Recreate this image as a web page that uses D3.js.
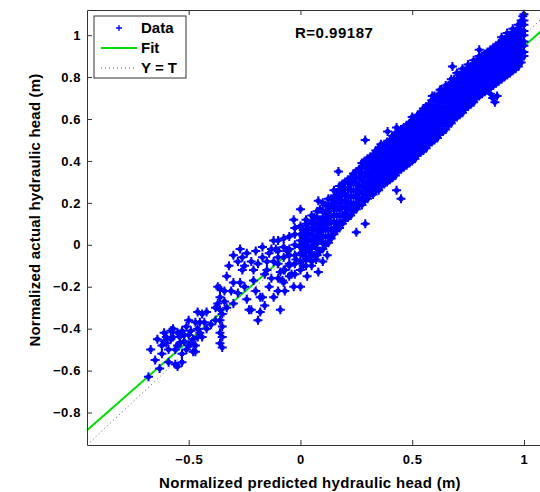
<!DOCTYPE html>
<html>
<head>
<meta charset="utf-8">
<script src="https://cdn.jsdelivr.net/npm/d3@7"></script>
<style>
  body { margin: 0; background: #fff; }
  svg { display: block; font-family: "Liberation Sans", Arial, sans-serif; font-weight: bold; }
</style>
</head>
<body>
<div id="chart"></div>
<script>
// Axis ticks
const xTicks = [-0.5, 0, 0.5, 1];
const yTicks = [-0.8, -0.6, -0.4, -0.2, 0, 0.2, 0.4, 0.6, 0.8, 1];

// Regression summary
const rValue = "0.99187";
const fitSlope = 0.937;
const fitIntercept = 0.01;
const axisMin = -0.955;
const axisMax = 1.12;

// Dense band of points: column x positions and the y values in each column
const bandX = [
  -0.1, -0.075, -0.05, -0.025, 0, 0.0125, 0.025, 0.0375, 0.05, 0.0625, 0.075, 0.0875,
  0.1, 0.1125, 0.125, 0.1375, 0.15, 0.1625, 0.175, 0.1875, 0.2, 0.2125, 0.225, 0.2375,
  0.25, 0.2625, 0.275, 0.2875,
  0.3, 0.3125, 0.325, 0.3375, 0.35, 0.3625, 0.375, 0.3875, 0.4, 0.4125, 0.425, 0.4375,
  0.45, 0.4625, 0.475, 0.4875, 0.5, 0.5125, 0.525, 0.5375, 0.55, 0.5625, 0.575, 0.5875,
  0.6, 0.6125, 0.625, 0.6375, 0.65, 0.6625, 0.675, 0.6875, 0.7, 0.7125, 0.725, 0.7375,
  0.75, 0.7625, 0.775, 0.7875, 0.8, 0.8125, 0.825, 0.8375, 0.85, 0.8625, 0.875, 0.8875,
  0.9, 0.9125, 0.925, 0.9375, 0.95, 0.9625, 0.975, 0.9875, 1.0
];
const bandY = [
  [-0.16, -0.09, -0.03, 0.02],
  [-0.18, -0.12, -0.06, -0.01, 0.03],
  [-0.15, -0.10, -0.05, -0.02, 0.04],
  [-0.14, -0.09, -0.05, 0.00, 0.05, 0.08],
  [-0.12, -0.08, -0.04, -0.01, 0.02, 0.05, 0.09],
  [-0.10, -0.05, -0.02, 0.01, 0.04, 0.07],
  [-0.10, -0.07, -0.03, 0.00, 0.03, 0.06, 0.10, 0.12],
  [-0.06, -0.02, 0.02, 0.05, 0.08],
  [-0.08, -0.04, -0.01, 0.02, 0.05, 0.08, 0.11, 0.14],
  [-0.05, 0.00, 0.03, 0.07, 0.10, 0.13],
  [-0.05, -0.02, 0.01, 0.04, 0.07, 0.10, 0.13, 0.16],
  [-0.03, 0.02, 0.06, 0.09, 0.12, 0.17],
  [-0.02, 0.01, 0.04, 0.07, 0.10, 0.13, 0.16, 0.20],
  [0.00, 0.04, 0.08, 0.11, 0.15, 0.19],
  [0.01, 0.04, 0.07, 0.10, 0.13, 0.16, 0.19, 0.22],
  [0.03, 0.07, 0.11, 0.14, 0.18, 0.22],
  [0.05, 0.08, 0.11, 0.14, 0.17, 0.20, 0.23, 0.26],
  [0.07, 0.10, 0.14, 0.18, 0.22, 0.25],
  [0.08, 0.11, 0.14, 0.17, 0.20, 0.23, 0.26, 0.28],
  [0.10, 0.14, 0.18, 0.21, 0.25, 0.29],
  [0.12, 0.15, 0.18, 0.21, 0.24, 0.27, 0.30],
  [0.13, 0.17, 0.20, 0.23, 0.27, 0.31],
  [0.14, 0.17, 0.20, 0.23, 0.26, 0.29, 0.32],
  [0.16, 0.19, 0.23, 0.26, 0.30, 0.34],
  [0.17, 0.20, 0.23, 0.26, 0.29, 0.32, 0.35],
  [0.19, 0.22, 0.25, 0.28, 0.32, 0.36],
  [0.19, 0.22, 0.25, 0.28, 0.31, 0.34, 0.37, 0.39],
  [0.21, 0.24, 0.27, 0.30, 0.33, 0.37, 0.40],
  [0.22, 0.25, 0.27, 0.30, 0.33, 0.35, 0.38, 0.41],
  [0.24, 0.26, 0.29, 0.32, 0.34, 0.37, 0.39, 0.42],
  [0.24, 0.27, 0.30, 0.32, 0.35, 0.38, 0.40, 0.43],
  [0.26, 0.28, 0.31, 0.34, 0.36, 0.39, 0.42, 0.45],
  [0.26, 0.29, 0.32, 0.35, 0.37, 0.40, 0.43, 0.46],
  [0.28, 0.30, 0.33, 0.36, 0.38, 0.41, 0.44, 0.47],
  [0.29, 0.31, 0.34, 0.37, 0.40, 0.42, 0.45, 0.48],
  [0.30, 0.33, 0.35, 0.38, 0.41, 0.43, 0.46, 0.49],
  [0.31, 0.34, 0.37, 0.39, 0.42, 0.45, 0.47, 0.50],
  [0.32, 0.35, 0.38, 0.40, 0.43, 0.46, 0.49, 0.52],
  [0.33, 0.36, 0.39, 0.41, 0.44, 0.47, 0.50, 0.53],
  [0.35, 0.37, 0.40, 0.43, 0.45, 0.48, 0.51, 0.54],
  [0.36, 0.38, 0.41, 0.44, 0.46, 0.49, 0.52, 0.55],
  [0.37, 0.39, 0.42, 0.45, 0.48, 0.50, 0.53, 0.56],
  [0.38, 0.41, 0.43, 0.46, 0.49, 0.51, 0.54, 0.57],
  [0.39, 0.42, 0.45, 0.47, 0.50, 0.53, 0.55, 0.58],
  [0.40, 0.43, 0.46, 0.48, 0.51, 0.54, 0.56, 0.59, 0.61],
  [0.41, 0.44, 0.47, 0.49, 0.52, 0.55, 0.58, 0.60],
  [0.43, 0.45, 0.48, 0.51, 0.53, 0.56, 0.59, 0.62],
  [0.44, 0.47, 0.49, 0.52, 0.55, 0.58, 0.60, 0.63],
  [0.45, 0.48, 0.51, 0.53, 0.56, 0.59, 0.62, 0.65],
  [0.46, 0.49, 0.52, 0.55, 0.57, 0.60, 0.63, 0.66],
  [0.48, 0.50, 0.53, 0.56, 0.59, 0.61, 0.64, 0.67],
  [0.49, 0.52, 0.54, 0.57, 0.60, 0.63, 0.66, 0.69],
  [0.50, 0.53, 0.56, 0.58, 0.61, 0.64, 0.66, 0.69, 0.71],
  [0.51, 0.54, 0.57, 0.60, 0.62, 0.65, 0.68, 0.71],
  [0.53, 0.55, 0.58, 0.61, 0.64, 0.66, 0.69, 0.72, 0.74],
  [0.54, 0.57, 0.59, 0.62, 0.65, 0.68, 0.70, 0.73],
  [0.55, 0.58, 0.61, 0.63, 0.66, 0.69, 0.72, 0.74, 0.76],
  [0.57, 0.59, 0.62, 0.65, 0.68, 0.70, 0.73, 0.76],
  [0.58, 0.61, 0.63, 0.66, 0.69, 0.72, 0.74, 0.77, 0.79],
  [0.60, 0.62, 0.65, 0.68, 0.70, 0.73, 0.76, 0.79],
  [0.61, 0.63, 0.66, 0.69, 0.71, 0.74, 0.77, 0.79, 0.82],
  [0.62, 0.65, 0.67, 0.70, 0.73, 0.75, 0.78, 0.81],
  [0.63, 0.66, 0.69, 0.71, 0.74, 0.77, 0.79, 0.82, 0.84],
  [0.65, 0.67, 0.70, 0.73, 0.75, 0.78, 0.81, 0.83],
  [0.66, 0.68, 0.71, 0.74, 0.76, 0.79, 0.82, 0.84, 0.86],
  [0.67, 0.70, 0.72, 0.75, 0.78, 0.80, 0.83, 0.85],
  [0.68, 0.71, 0.74, 0.76, 0.79, 0.81, 0.84, 0.86, 0.88],
  [0.70, 0.72, 0.75, 0.77, 0.80, 0.83, 0.85, 0.88],
  [0.71, 0.73, 0.76, 0.79, 0.81, 0.84, 0.86, 0.88, 0.90],
  [0.72, 0.75, 0.77, 0.80, 0.82, 0.85, 0.87, 0.90],
  [0.73, 0.76, 0.78, 0.81, 0.84, 0.86, 0.89, 0.91],
  [0.74, 0.77, 0.79, 0.82, 0.85, 0.87, 0.90, 0.92],
  [0.75, 0.78, 0.80, 0.83, 0.86, 0.88, 0.91, 0.93],
  [0.76, 0.79, 0.81, 0.84, 0.87, 0.89, 0.92, 0.94],
  [0.77, 0.80, 0.82, 0.85, 0.88, 0.90, 0.93, 0.95],
  [0.78, 0.81, 0.83, 0.86, 0.89, 0.91, 0.94, 0.96],
  [0.79, 0.82, 0.84, 0.87, 0.90, 0.92, 0.95, 0.97, 0.99],
  [0.80, 0.83, 0.85, 0.88, 0.91, 0.93, 0.96, 0.98],
  [0.81, 0.84, 0.86, 0.89, 0.92, 0.94, 0.97, 0.99, 1.01],
  [0.82, 0.85, 0.87, 0.90, 0.93, 0.95, 0.98, 1.00],
  [0.83, 0.86, 0.88, 0.91, 0.94, 0.96, 0.99, 1.01, 1.03],
  [0.84, 0.87, 0.89, 0.92, 0.95, 0.97, 1.00, 1.02],
  [0.85, 0.88, 0.90, 0.93, 0.96, 0.98, 1.01, 1.03, 1.05],
  [0.87, 0.89, 0.92, 0.95, 0.97, 1.00, 1.02, 1.05, 1.07],
  [0.90, 0.92, 0.95, 0.97, 1.00, 1.02, 1.05, 1.07]
];

// Scattered points outside the main band
const sparseX = [
  -0.68, -0.67, -0.65, -0.63, -0.64, -0.62, -0.61, -0.60, -0.59, -0.58, -0.57, -0.57,
  -0.56, -0.55, -0.55, -0.54, -0.53, -0.53, -0.52, -0.51, -0.50, -0.50, -0.49, -0.48,
  -0.47, -0.47, -0.46, -0.46, -0.45, -0.44, -0.44, -0.42,
  -0.62, -0.60, -0.58, -0.56, -0.55, -0.54, -0.53, -0.52, -0.51, -0.50, -0.49, -0.48,
  -0.47, -0.46, -0.45, -0.43, -0.59, -0.61, -0.40, -0.42,
  -0.36, -0.36, -0.37, -0.36, -0.35, -0.36, -0.35, -0.36, -0.35, -0.36, -0.35, -0.38, -0.34,
  -0.37, -0.34, -0.33, -0.38,
  -0.32, -0.30, -0.30, -0.28, -0.26, -0.26, -0.24, -0.23, -0.22, -0.21, -0.19, -0.18,
  -0.18, -0.17, -0.17, -0.17, -0.15, -0.14, -0.13, -0.12, -0.12, -0.11, -0.09, -0.09,
  -0.05, -0.03, 0.00, 0.08, 0.07,
  -0.30, -0.28, -0.27, -0.25, -0.24, -0.22, -0.21, -0.20, -0.19, -0.16, -0.15, -0.13,
  -0.12, -0.10, -0.08, -0.07, -0.06, -0.04, -0.02, -0.14, -0.10, -0.33, -0.31, -0.27,
  -0.25, -0.20, -0.16, -0.07, 0.03, 0.05, 0.10, 0.12,
  0.00, 0.08, -0.03, 0.13, 0.17, 0.29, 0.25, 0.29, 0.36, 0.39, 0.43, 0.43, 0.45,
  0.55, 0.59, 0.63, 0.68, 0.80, 0.85, 0.86, 0.87, 0.88, 0.995, 1.0
];
const sparseY = [
  -0.63, -0.50, -0.55, -0.59, -0.45, -0.48, -0.42, -0.44, -0.50, -0.45, -0.44, -0.40,
  -0.57, -0.48, -0.58, -0.44, -0.56, -0.41, -0.46, -0.50, -0.36, -0.43, -0.47, -0.51,
  -0.37, -0.51, -0.32, -0.40, -0.37, -0.33, -0.44, -0.40,
  -0.52, -0.47, -0.41, -0.50, -0.42, -0.47, -0.52, -0.43, -0.39, -0.48, -0.41, -0.45,
  -0.48, -0.44, -0.42, -0.37, -0.56, -0.46, -0.38, -0.32,
  -0.21, -0.25, -0.28, -0.31, -0.33, -0.36, -0.39, -0.42, -0.44, -0.47, -0.49, -0.30, -0.27,
  -0.20, -0.22, -0.30, -0.36,
  -0.10, -0.18, -0.28, -0.23, -0.06, -0.12, -0.26, -0.31, -0.31, -0.17, -0.36, -0.25,
  -0.32, -0.06, -0.01, -0.25, -0.12, -0.04, -0.16, -0.25, -0.08, -0.02, -0.13, -0.31,
  -0.09, -0.20, -0.20, -0.13, -0.07,
  -0.05, -0.08, -0.02, -0.10, -0.04, -0.08, -0.12, -0.03, -0.09, -0.14, -0.08, -0.02,
  0.02, -0.06, -0.17, -0.22, -0.03, -0.14, -0.07, -0.20, -0.22, -0.15, -0.22, -0.18,
  -0.20, -0.22, -0.29, -0.12, -0.15, -0.10, -0.08, -0.05,
  0.17, 0.21, 0.12, 0.17, 0.35, 0.50, 0.06, 0.10, 0.48, 0.54, 0.56, 0.26, 0.22,
  0.64, 0.71, 0.74, 0.85, 0.93, 0.72, 0.70, 0.68, 0.71, 1.09, 1.10
];

const legendLabels = ["Data", "Fit", "Y = T"];

// Setup
const width = 540;
const height = 492;
const plotLeft = 87;
const plotTop = 10;
const plotBottom = 445;
const pxPerUnitX = 223.5;
const blue = "#0000ff";
const green = "#00dd00";

const svg = d3.select("#chart")
  .append("svg")
  .attr("width", width)
  .attr("height", height);

const x = d3.scaleLinear()
  .domain([axisMin, axisMax])
  .range([plotLeft, plotLeft + (axisMax - axisMin) * pxPerUnitX]);

const y = d3.scaleLinear()
  .domain([axisMin, axisMax])
  .range([plotBottom, plotTop]);

// Gather all points
const points = [];
bandX.forEach((cx, i) => {
  bandY[i].forEach(v => points.push({x: cx, y: v}));
});
sparseX.forEach((v, i) => points.push({x: v, y: sparseY[i]}));

// Fit line (drawn under the data, as in the original)
svg.append("line")
  .attr("x1", x(axisMin))
  .attr("y1", y(fitSlope * axisMin + fitIntercept))
  .attr("x2", x(axisMax))
  .attr("y2", y(fitSlope * axisMax + fitIntercept))
  .attr("stroke", green)
  .attr("stroke-width", 2);

// Y = T line
svg.append("line")
  .attr("x1", x(axisMin))
  .attr("y1", y(axisMin))
  .attr("x2", x(axisMax))
  .attr("y2", y(axisMax))
  .attr("stroke", "#555")
  .attr("stroke-width", 1)
  .attr("stroke-dasharray", "1,3");

// Data markers: bold plus with a filled centre
const marks = svg.append("g")
  .selectAll("g")
  .data(points)
  .join("g")
  .attr("transform", d => `translate(${x(d.x)},${y(d.y)})`);

marks.append("path")
  .attr("d", "M-4.5,0H4.5M0,-4.5V4.5")
  .attr("stroke", blue)
  .attr("stroke-width", 2)
  .attr("fill", "none");

marks.append("circle")
  .attr("r", 2.6)
  .attr("fill", blue);

// Axes with inward ticks
const fmt = d => d3.format("")(d);

svg.append("g")
  .attr("transform", `translate(0,${plotBottom})`)
  .call(d3.axisBottom(x).tickValues(xTicks).tickFormat(fmt).tickSizeInner(-5).tickSizeOuter(0).tickPadding(10));

svg.append("g")
  .attr("transform", `translate(0,${plotTop})`)
  .call(d3.axisTop(x).tickValues(xTicks).tickFormat("").tickSizeInner(-5).tickSizeOuter(0));

svg.append("g")
  .attr("transform", `translate(${plotLeft},0)`)
  .call(d3.axisLeft(y).tickValues(yTicks).tickFormat(fmt).tickSizeInner(-5).tickSizeOuter(0).tickPadding(6));

svg.selectAll(".domain").attr("stroke", "#333");
svg.selectAll(".tick line").attr("stroke", "#333");
svg.selectAll(".tick text")
  .attr("fill", "#000")
  .style("font-size", "13px")
  .style("letter-spacing", "0.6px")
  .style("font-weight", "bold")
  .style("font-family", "'Liberation Sans', Arial, sans-serif");

// Axis labels
svg.append("text")
  .attr("x", 310)
  .attr("y", 488)
  .attr("text-anchor", "middle")
  .style("font-size", "15px")
  .style("letter-spacing", "0.3px")
  .text("Normalized predicted hydraulic head (m)");

svg.append("text")
  .attr("transform", "translate(40,210) rotate(-90)")
  .attr("text-anchor", "middle")
  .style("font-size", "15px")
  .style("letter-spacing", "0.2px")
  .text("Normalized actual hydraulic head (m)");

// R value
svg.append("text")
  .attr("x", 295)
  .attr("y", 38)
  .style("font-size", "15px")
  .style("letter-spacing", "0.5px")
  .text("R=" + rValue);

// Legend
const legend = svg.append("g").attr("transform", "translate(94,16)");
legend.append("rect")
  .attr("width", 92)
  .attr("height", 62)
  .attr("fill", "#fff")
  .attr("stroke", "#333");

const rows = legend.selectAll("g.row")
  .data(legendLabels)
  .join("g")
  .attr("class", "row")
  .attr("transform", (d, i) => `translate(0,${12 + i * 20})`);

rows.append("text")
  .attr("x", 47)
  .attr("y", 5)
  .style("font-size", "15px")
  .text(d => d);

rows.filter((d, i) => i === 0).append("path")
  .attr("d", "M-3,0H3M0,-3V3")
  .attr("transform", "translate(25,0)")
  .attr("stroke", blue)
  .attr("stroke-width", 1.3);

rows.filter((d, i) => i === 1).append("line")
  .attr("x1", 7).attr("x2", 43)
  .attr("stroke", green)
  .attr("stroke-width", 2);

rows.filter((d, i) => i === 2).append("line")
  .attr("x1", 7).attr("x2", 43)
  .attr("stroke", "#555")
  .attr("stroke-dasharray", "1,3");
</script>
</body>
</html>
